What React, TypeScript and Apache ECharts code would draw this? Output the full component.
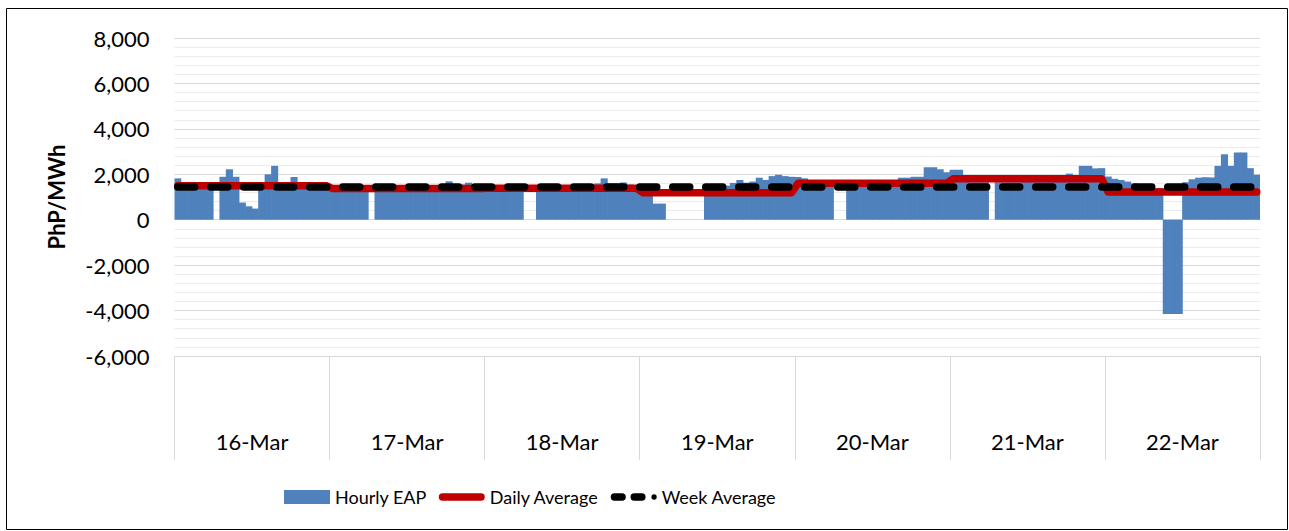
import { useEffect, useRef } from 'react';
import * as echarts from 'echarts';

const days = ['16-Mar', '17-Mar', '18-Mar', '19-Mar', '20-Mar', '21-Mar', '22-Mar'];
const hoursOfDay = ['00', '01', '02', '03', '04', '05', '06', '07', '08', '09', '10', '11', '12', '13', '14', '15', '16', '17', '18', '19', '20', '21', '22', '23'];

const eap16Mar = [1820, 1600, 1600, 1550, 1550, 1500, 0, 1890, 2220, 1890, 755, 590, 490, 1550, 2000, 2370, 1650, 1600, 1880, 1650, 1600, 1600, 1550, 1500];
const eap17Mar = [1400, 1400, 1380, 1350, 1350, 1380, 0, 1400, 1450, 1450, 1450, 1450, 1450, 1450, 1450, 1450, 1500, 1550, 1690, 1550, 1550, 1630, 1500, 1450];
const eap18Mar = [1400, 1400, 1400, 1380, 1380, 1400, 0, 0, 1450, 1450, 1500, 1500, 1500, 1500, 1500, 1550, 1550, 1600, 1820, 1600, 1600, 1640, 1550, 1500];
const eap19Mar = [1550, 1300, 710, 710, 0, 0, 0, 0, 0, 0, 1300, 1350, 1400, 1500, 1620, 1750, 1630, 1680, 1850, 1750, 1920, 1980, 1920, 1890];
const eap20Mar = [1880, 1820, 1700, 1650, 1600, 1600, 0, 0, 1600, 1650, 1650, 1650, 1700, 1700, 1700, 1750, 1850, 1850, 1890, 1890, 2310, 2310, 2220, 2090];
const eap21Mar = [2200, 2200, 1700, 1650, 1650, 1650, 0, 1650, 1650, 1650, 1650, 1700, 1700, 1700, 1700, 1750, 1800, 1850, 2030, 1950, 2370, 2370, 2260, 2270];
const eap22Mar = [1900, 1800, 1750, 1680, 1600, 1500, 1400, 1350, 1400, -4150, -4150, -4150, 1650, 1780, 1850, 1870, 1860, 2370, 2880, 2370, 2960, 2960, 2270, 1980];

const hourlyEAP = [...eap16Mar, ...eap17Mar, ...eap18Mar, ...eap19Mar, ...eap20Mar, ...eap21Mar, ...eap22Mar];
const dailyAverage = [1495, 1370, 1390, 1190, 1605, 1800, 1220];
const weekAverage = 1440;

const yMin = -6000;
const yMax = 8000;
const yInterval = 2000;

const FONT = 'Lato, "Open Sans", sans-serif';

const redLineIcon = 'path://M4,0 H45 A4,4 0 0 1 45,8 H4 A4,4 0 0 1 4,0 Z';
const weekLineIcon =
  'path://M4,0 H12 A4,4 0 0 1 12,8 H4 A4,4 0 0 1 4,0 Z M25,0 H33 A4,4 0 0 1 33,8 H25 A4,4 0 0 1 25,0 Z M43.2,4 A2.8,2.8 0 1 0 48.8,4 A2.8,2.8 0 1 0 43.2,4 Z';

export default function App() {
  const ref = useRef<HTMLDivElement>(null);

  useEffect(() => {
    const chart = echarts.init(ref.current!, null, { renderer: 'svg' });
    const hourCats = days.flatMap((d) => hoursOfDay.map((h) => `${d} ${h}:00`));
    const dailySeries = days.flatMap((_, i) => hoursOfDay.map(() => dailyAverage[i]));
    const weekSeries = hourCats.map(() => weekAverage);

    chart.setOption({
      animation: false,
      backgroundColor: '#ffffff',
      textStyle: { fontFamily: FONT },
      grid: { left: 174.5, right: 29, top: 38, bottom: 175, containLabel: false },
      xAxis: [
        {
          type: 'category',
          data: hourCats,
          boundaryGap: true,
          axisLine: { show: true, lineStyle: { color: '#d9d9d9', width: 1 } },
          axisTick: { show: false },
          axisLabel: { show: false },
          splitLine: { show: false },
        },
        {
          type: 'category',
          data: days,
          position: 'bottom',
          boundaryGap: true,
          axisLine: { show: false },
          axisTick: { show: true, length: 104, interval: 0, lineStyle: { color: '#d9d9d9', width: 1 } },
          axisLabel: { margin: 74, fontSize: 22, color: '#000', fontFamily: FONT, interval: 0 },
          splitLine: { show: false },
        },
      ],
      yAxis: {
        type: 'value',
        min: yMin,
        max: yMax,
        interval: yInterval,
        axisLine: { show: false },
        axisTick: { show: false },
        axisLabel: {
          margin: 25,
          fontSize: 22,
          color: '#000',
          fontFamily: FONT,
          formatter: (v: number) => v.toLocaleString('en-US'),
        },
        splitLine: { show: true, lineStyle: { color: '#d9d9d9', width: 1 } },
        minorTick: { show: false, splitNumber: 5 },
        minorSplitLine: { show: true, lineStyle: { color: '#ebebeb', width: 1 } },
        name: 'PhP/MWh',
        nameLocation: 'middle',
        nameGap: 107,
        nameTextStyle: { fontSize: 22, fontWeight: 'bold', color: '#000', fontFamily: FONT },
      },
      legend: {
        left: 279,
        top: 483,
        itemWidth: 46,
        itemHeight: 14,
        itemGap: 12,
        textStyle: { fontSize: 18, color: '#000', fontFamily: FONT },
        data: [
          { name: 'Hourly EAP', icon: 'rect' },
          { name: 'Daily Average', icon: redLineIcon },
          { name: 'Week Average', icon: weekLineIcon },
        ],
      },
      series: [
        {
          name: 'Hourly EAP',
          type: 'bar',
          data: hourlyEAP,
          barWidth: 7.1,
          barCategoryGap: '0%',
          itemStyle: { color: '#4f81bd' },
        },
        {
          name: 'Daily Average',
          type: 'line',
          data: dailySeries,
          symbol: 'none',
          showSymbol: false,
          itemStyle: { color: '#c00000' },
          lineStyle: { color: '#c00000', width: 7.5, cap: 'round', join: 'round' },
        },
        {
          name: 'Week Average',
          type: 'line',
          data: weekSeries,
          symbol: 'none',
          showSymbol: false,
          itemStyle: { color: '#000000' },
          lineStyle: { color: '#000000', width: 7.5, type: [17, 16], cap: 'round', join: 'round' },
        },
      ],
      graphic: [
        {
          type: 'rect',
          silent: true,
          shape: { x: 6.5, y: 8.5, width: 1281, height: 521 },
          style: { fill: 'none', stroke: '#000', lineWidth: 1 },
        },
      ],
    });

    return () => chart.dispose();
  }, []);

  return (
    <div
      ref={ref}
      style={{ position: 'fixed', left: 0, top: 0, width: 1289, height: 531, background: '#fff' }}
    />
  );
}
